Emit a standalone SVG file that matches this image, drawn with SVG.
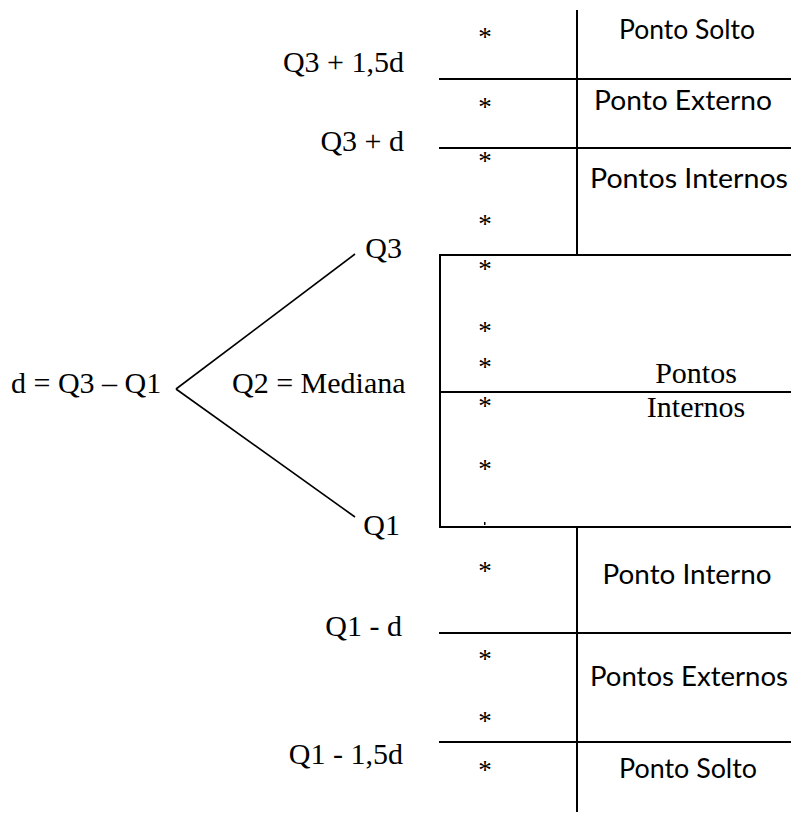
<svg xmlns="http://www.w3.org/2000/svg" width="791" height="813" viewBox="0 0 791 813">
<style>
.serif{font-family:"Liberation Serif","Times New Roman",serif;font-size:30px;fill:#000}
.sans{font-family:Lato,"Liberation Sans",sans-serif;font-size:27px;fill:#000;text-anchor:middle}
.star{font-family:"Liberation Serif",serif;font-size:27px;fill:#000;text-anchor:middle}
.ln{stroke:#000;stroke-width:2;fill:none}
.thin{stroke:#000;stroke-width:1.6;fill:none}
</style>
<rect width="791" height="813" fill="#fff"/>
<g id="connectors">
<line class="thin" x1="176" y1="389" x2="355" y2="254"/>
<line class="thin" x1="176" y1="389" x2="355" y2="517"/>
<line class="ln" x1="577" y1="10" x2="577" y2="255"/>
<line class="ln" x1="577" y1="527" x2="577" y2="812"/>
<line class="ln" x1="439" y1="79" x2="791" y2="79"/>
<line class="ln" x1="439" y1="148" x2="791" y2="148"/>
<line class="ln" x1="439" y1="633" x2="791" y2="633"/>
<line class="ln" x1="439" y1="742" x2="791" y2="742"/>
</g>
<g id="box">
<path class="ln" d="M791 255 H440 V527 H791"/>
<line class="ln" x1="440" y1="392" x2="791" y2="392"/>
<text class="serif" x="696" y="383" text-anchor="middle">Pontos</text>
<text class="serif" x="696" y="417" text-anchor="middle">Internos</text>
</g>
<g id="left-labels">
<text class="serif" x="404" y="72" text-anchor="end">Q3 + 1,5d</text>
<text class="serif" x="404" y="151" text-anchor="end">Q3 + d</text>
<text class="serif" x="402" y="258" text-anchor="end">Q3</text>
<text class="serif" x="11" y="393">d = Q3 – Q1</text>
<text class="serif" x="232" y="393">Q2 = Mediana</text>
<text class="serif" x="400" y="535" text-anchor="end">Q1</text>
<text class="serif" x="402" y="636" text-anchor="end">Q1 - d</text>
<text class="serif" x="403" y="764" text-anchor="end">Q1 - 1,5d</text>
</g>
<g id="right-labels">
<text class="sans" x="687" y="39" textLength="136" lengthAdjust="spacingAndGlyphs">Ponto Solto</text>
<text class="sans" x="683" y="110" textLength="178" lengthAdjust="spacingAndGlyphs">Ponto Externo</text>
<text class="sans" x="689" y="188" textLength="198" lengthAdjust="spacingAndGlyphs">Pontos Internos</text>
<text class="sans" x="687" y="584" textLength="169" lengthAdjust="spacingAndGlyphs">Ponto Interno</text>
<text class="sans" x="689" y="686" textLength="198" lengthAdjust="spacingAndGlyphs">Pontos Externos</text>
<text class="sans" x="688" y="778" textLength="138" lengthAdjust="spacingAndGlyphs">Ponto Solto</text>
</g>
<g id="points">
<text class="star" x="485" y="46">*</text>
<text class="star" x="485" y="116">*</text>
<text class="star" x="485" y="170">*</text>
<text class="star" x="485" y="233">*</text>
<text class="star" x="485" y="278">*</text>
<text class="star" x="485" y="340">*</text>
<text class="star" x="485" y="376">*</text>
<text class="star" x="485" y="415">*</text>
<text class="star" x="485" y="478">*</text>
<rect x="484" y="522" width="1.5" height="3" fill="#000"/>
<text class="star" x="485" y="580">*</text>
<text class="star" x="485" y="668">*</text>
<text class="star" x="485" y="730">*</text>
<text class="star" x="485" y="779">*</text>
</g>
</svg>
